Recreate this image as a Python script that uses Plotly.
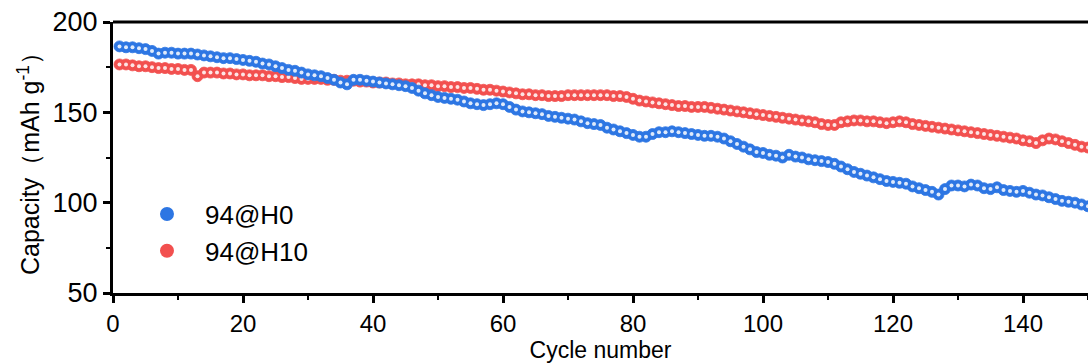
import plotly.graph_objects as go

cycles = list(range(1, 151))

cap_h0 = [
    186.5, 186, 186, 185.5, 185, 184, 182.5, 183, 183, 182.5,
    182.5, 182.5, 182, 181.5, 181, 180.5, 180, 180, 179.5, 179,
    178.5, 178, 177, 176.5, 175.5, 174.5, 173.5, 173, 172, 171,
    170.5, 170, 169, 168, 166.5, 165.5, 168, 168, 167.5, 167,
    166.5, 166, 165.5, 165, 164.5, 163.5, 162, 160.5, 159.5, 158.5,
    158, 157.5, 157, 156, 155, 154.5, 154, 154.5, 155, 154.5,
    153, 151.5, 150.5, 150, 149.5, 149, 148, 147.5, 147, 146.5,
    146, 145, 144, 143.5, 143, 141.5, 140.5, 139.5, 138.5, 137.5,
    136.5, 136.5, 138, 139, 139, 139.5, 139, 138.5, 138, 137.5,
    137, 137, 136.5, 135.5, 134, 132.5, 131, 129.5, 128, 127.5,
    126.5, 126, 125, 126.5, 125.5, 125, 124, 123.5, 123, 122.5,
    121.5, 120, 118.5, 117, 116, 115, 114, 113, 112, 111.5,
    111, 110.5, 109, 108, 107, 106, 104.5, 107.5, 109.5, 109.5,
    109, 110, 109.5, 108, 107.5, 108.5, 107, 106.5, 106, 106.5,
    105.5, 104.5, 104, 103, 102, 101, 100.5, 100, 99, 98,
]

cap_h10 = [
    176.5, 176.5, 176, 175.5, 175.5, 175, 174.5, 174.5, 174, 174,
    173.5, 173.5, 170, 172, 172, 172, 171.5, 171.5, 171, 171,
    170.5, 170.5, 170.5, 170, 170, 169.5, 169.5, 169, 168.5, 168.5,
    168.5, 168.5, 168, 168, 167.5, 167.5, 167.5, 167, 167, 166.5,
    166.5, 166.5, 166, 166, 165.5, 165.5, 165.5, 165, 165, 164.5,
    164.5, 164, 164, 163.5, 163.5, 163, 162.5, 162.5, 162, 161.5,
    161, 160.5, 160, 160, 159.5, 159.5, 159, 159, 159, 159.5,
    159.5, 159.5, 159.5, 159.5, 159.5, 159.5, 159, 159, 158.5, 157.5,
    156.5, 156, 155.5, 155, 154.5, 154, 153.5, 153.5, 153, 153,
    153, 152.5, 152, 151.5, 151, 150.5, 150, 149.5, 149, 148.5,
    148, 147.5, 147, 146.5, 146, 145.5, 145, 144.5, 143.5, 143,
    143, 144.5, 145, 145.5, 145.5, 145, 145, 144.5, 144, 144.5,
    145, 144.5, 143.5, 143, 142.5, 142, 141.5, 141, 140.5, 140,
    139.5, 139, 138.5, 138, 137.5, 137, 136.5, 136, 135.5, 134.5,
    134, 133, 134.5, 135.5, 135, 134, 133, 132, 131, 130.5,
]

x_ticks = [0, 20, 40, 60, 80, 100, 120, 140]
y_ticks = [50, 100, 150, 200]

BLUE = "#2d76e3"
RED = "#f2504f"
FONT = "Liberation Sans, Arial, sans-serif"

fig = go.Figure()

def add_series(y, color, name):
    fig.add_trace(go.Scatter(
        x=cycles, y=y, mode="markers", name=name,
        marker=dict(size=11, color=color, line=dict(width=0.8, color=color)),
    ))
    fig.add_trace(go.Scatter(
        x=cycles, y=y, mode="markers", showlegend=False, hoverinfo="skip",
        marker=dict(size=4, color="rgba(255,255,255,0.85)", line=dict(width=0)),
    ))

add_series(cap_h10, RED, "94@H10")
add_series(cap_h0, BLUE, "94@H0")

axis_common = dict(
    showline=True, linewidth=3, linecolor="black",
    ticks="outside", ticklen=7, tickwidth=2.5, tickcolor="black",
    showgrid=False, zeroline=False,
)

fig.update_xaxes(
    range=[0, 150], tickvals=x_ticks,
    tickfont=dict(family=FONT, size=24, color="black"),
    minor=dict(dtick=10, tick0=0, ticks="outside", ticklen=4, tickwidth=2, tickcolor="black"),
    title=dict(text="Cycle number", font=dict(family=FONT, size=23, color="black"), standoff=0),
    **axis_common,
)
fig.update_yaxes(
    range=[50, 200], tickvals=y_ticks,
    tickfont=dict(family=FONT, size=27, color="black"),
    minor=dict(dtick=25, tick0=0, ticks="outside", ticklen=4, tickwidth=2, tickcolor="black"),
    title=dict(text="Capacity（mAh g<sup>-1</sup>）", font=dict(family=FONT, size=25, color="black"), standoff=6),
    **axis_common,
)

fig.add_shape(type="line", xref="paper", yref="paper", x0=0, x1=1, y0=1, y1=1,
              line=dict(color="black", width=3))

fig.update_layout(
    width=1088, height=364,
    margin=dict(l=113, r=0, t=22, b=71),
    paper_bgcolor="white", plot_bgcolor="white",
    showlegend=True,
    legend=dict(
        x=0.0164, y=0.378, xanchor="left", yanchor="top",
        traceorder="reversed", itemwidth=66,
        font=dict(family=FONT, size=26, color="black"),
        bgcolor="rgba(0,0,0,0)", itemsizing="constant",
    ),
)

fig.write_html("out.html")
